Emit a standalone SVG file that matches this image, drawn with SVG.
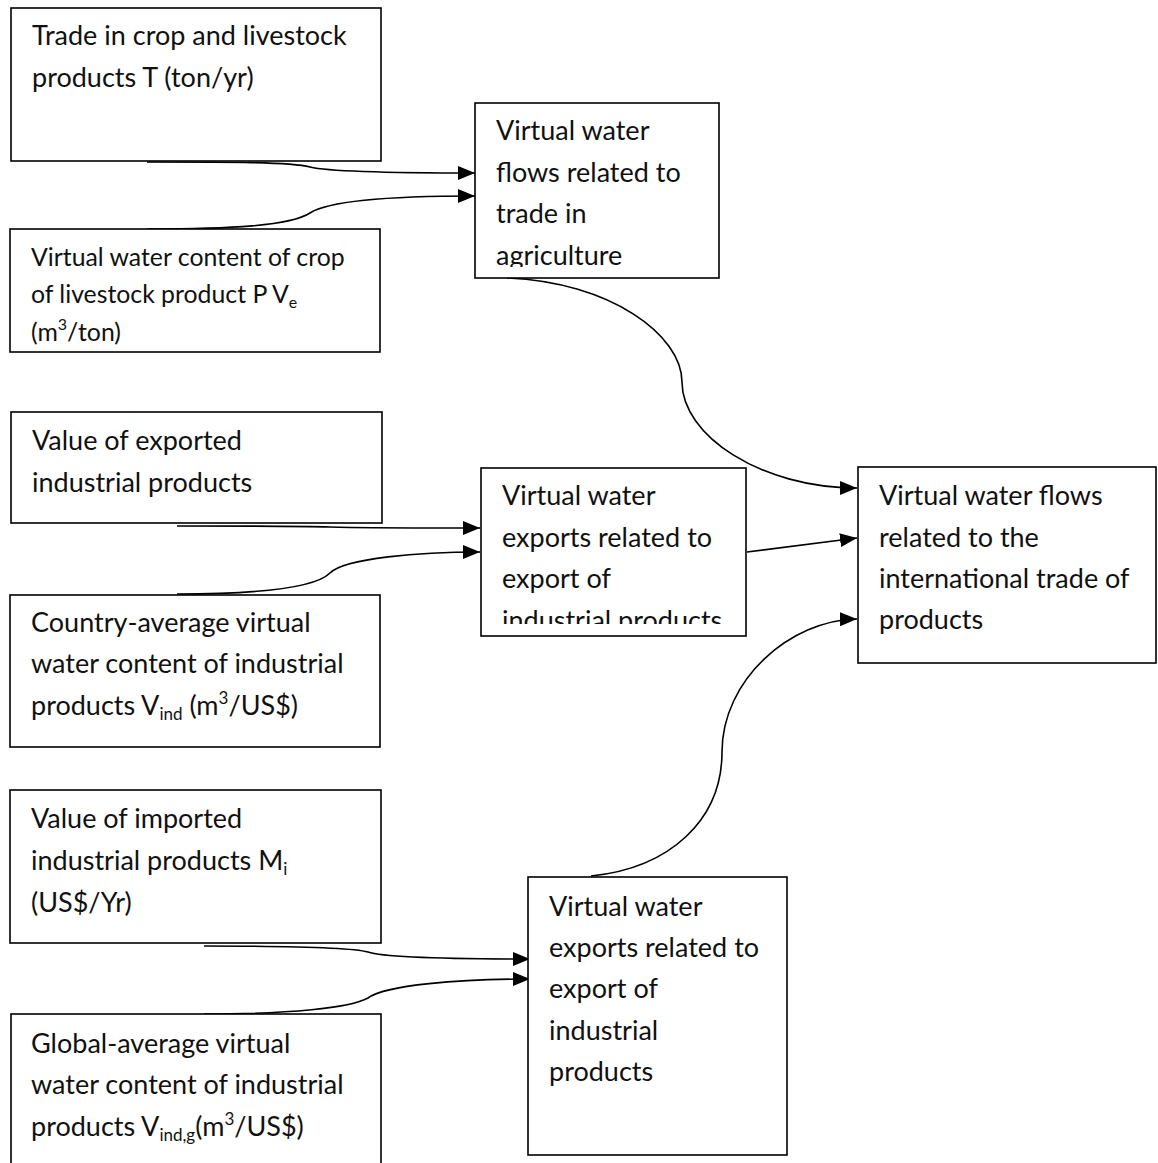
<svg xmlns="http://www.w3.org/2000/svg" width="1158" height="1163" viewBox="0 0 1158 1163">
<style>
.box{fill:#fff;stroke:#000;stroke-width:1.6}
.t{font-family:Lato,"Open Sans","Liberation Sans",sans-serif;font-size:27px;fill:#111}
.s{font-family:Lato,"Open Sans","Liberation Sans",sans-serif;font-size:24.8px;fill:#111}
.c{fill:none;stroke:#000;stroke-width:1.6}
</style>
<defs>
<marker id="ah" markerUnits="userSpaceOnUse" markerWidth="18" markerHeight="14" refX="17" refY="7" orient="auto">
<path d="M0,0 L17,7 L0,14 Z" fill="#000"/>
</marker>
<clipPath id="clip3"><rect x="475" y="103" width="244" height="164"/></clipPath>
<clipPath id="clip6"><rect x="481" y="468" width="265" height="156"/></clipPath>
</defs>
<g id="connectors">
<path class="c" marker-end="url(#ah)" d="M147,162 C230,162 290,162 310,167 C330,172 400,173 475,173"/>
<path class="c" marker-end="url(#ah)" d="M147,229 C230,229 290,226 310,213 C330,200 400,196 475,196"/>
<path class="c" marker-end="url(#ah)" d="M507,278 C610,282 682,335 682,382 C682,435 760,488 857,488"/>
<path class="c" marker-end="url(#ah)" d="M177,526 C260,526 300,526 330,527 C360,528 420,528 480,528"/>
<path class="c" marker-end="url(#ah)" d="M177,594 C260,594 315,588 330,573 C345,558 420,552 480,552"/>
<path class="c" marker-end="url(#ah)" d="M747,552 L857,538"/>
<path class="c" marker-end="url(#ah)" d="M591,876 C670,868 722,820 722,752 C722,680 790,620 857,619"/>
<path class="c" marker-end="url(#ah)" d="M204,946 C290,946 350,947 368,952 C385,958 460,959 530,959"/>
<path class="c" marker-end="url(#ah)" d="M204,1014 C290,1014 350,1008 368,998 C385,985 460,979 530,979"/>
</g>
<g id="n1">
<rect class="box" x="11" y="8" width="370" height="153"/>
<text class="t" x="32" y="45">Trade in crop and livestock</text>
<text class="t" x="32" y="87">products T (ton/yr)</text>
</g>
<g id="n2">
<rect class="box" x="10" y="229" width="370" height="123"/>
<text class="s" x="31" y="266">Virtual water content of crop</text>
<text class="s" x="31" y="303">of livestock product P V<tspan font-size="16" dy="5">e</tspan></text>
<text class="s" x="31" y="341">(m<tspan font-size="16" dy="-11">3</tspan><tspan dy="11">/ton)</tspan></text>
</g>
<g id="n3">
<rect class="box" x="475" y="103" width="244" height="175"/>
<g clip-path="url(#clip3)">
<text class="t" x="496" y="140">Virtual water</text>
<text class="t" x="496" y="182">flows related to</text>
<text class="t" x="496" y="223">trade in</text>
<text class="t" x="496" y="265">agriculture</text>
</g>
</g>
<g id="n4">
<rect class="box" x="11" y="412" width="371" height="111"/>
<text class="t" x="32" y="450">Value of exported</text>
<text class="t" x="32" y="492">industrial products</text>
</g>
<g id="n5">
<rect class="box" x="10" y="595" width="370" height="152"/>
<text class="t" x="31" y="632">Country-average virtual</text>
<text class="t" x="31" y="673">water content of industrial</text>
<text class="t" x="31" y="715">products V<tspan font-size="17" dy="5">ind</tspan><tspan dy="-5"> (m</tspan><tspan font-size="17" dy="-11">3</tspan><tspan dy="11">/US$)</tspan></text>
</g>
<g id="n6">
<rect class="box" x="481" y="468" width="265" height="168"/>
<g clip-path="url(#clip6)">
<text class="t" x="502" y="505">Virtual water</text>
<text class="t" x="502" y="547">exports related to</text>
<text class="t" x="502" y="588">export of</text>
<text class="t" x="502" y="630">industrial products</text>
</g>
</g>
<g id="n7">
<rect class="box" x="858" y="467" width="298" height="196"/>
<text class="t" x="879" y="505">Virtual water flows</text>
<text class="t" x="879" y="547">related to the</text>
<text class="t" x="879" y="588">international trade of</text>
<text class="t" x="879" y="629">products</text>
</g>
<g id="n8">
<rect class="box" x="528" y="877" width="259" height="278"/>
<text class="t" x="549" y="916">Virtual water</text>
<text class="t" x="549" y="957">exports related to</text>
<text class="t" x="549" y="998">export of</text>
<text class="t" x="549" y="1040">industrial</text>
<text class="t" x="549" y="1081">products</text>
</g>
<g id="n9">
<rect class="box" x="10" y="790" width="371" height="153"/>
<text class="t" x="31" y="828">Value of imported</text>
<text class="t" x="31" y="870">industrial products M<tspan font-size="17" dy="5">i</tspan></text>
<text class="t" x="31" y="912">(US$/Yr)</text>
</g>
<g id="n10">
<rect class="box" x="11" y="1014" width="370" height="160"/>
<text class="t" x="31" y="1053">Global-average virtual</text>
<text class="t" x="31" y="1094">water content of industrial</text>
<text class="t" x="31" y="1136">products V<tspan font-size="17" dy="5">ind,g</tspan><tspan dy="-5">(m</tspan><tspan font-size="17" dy="-11">3</tspan><tspan dy="11">/US$)</tspan></text>
</g>
</svg>
